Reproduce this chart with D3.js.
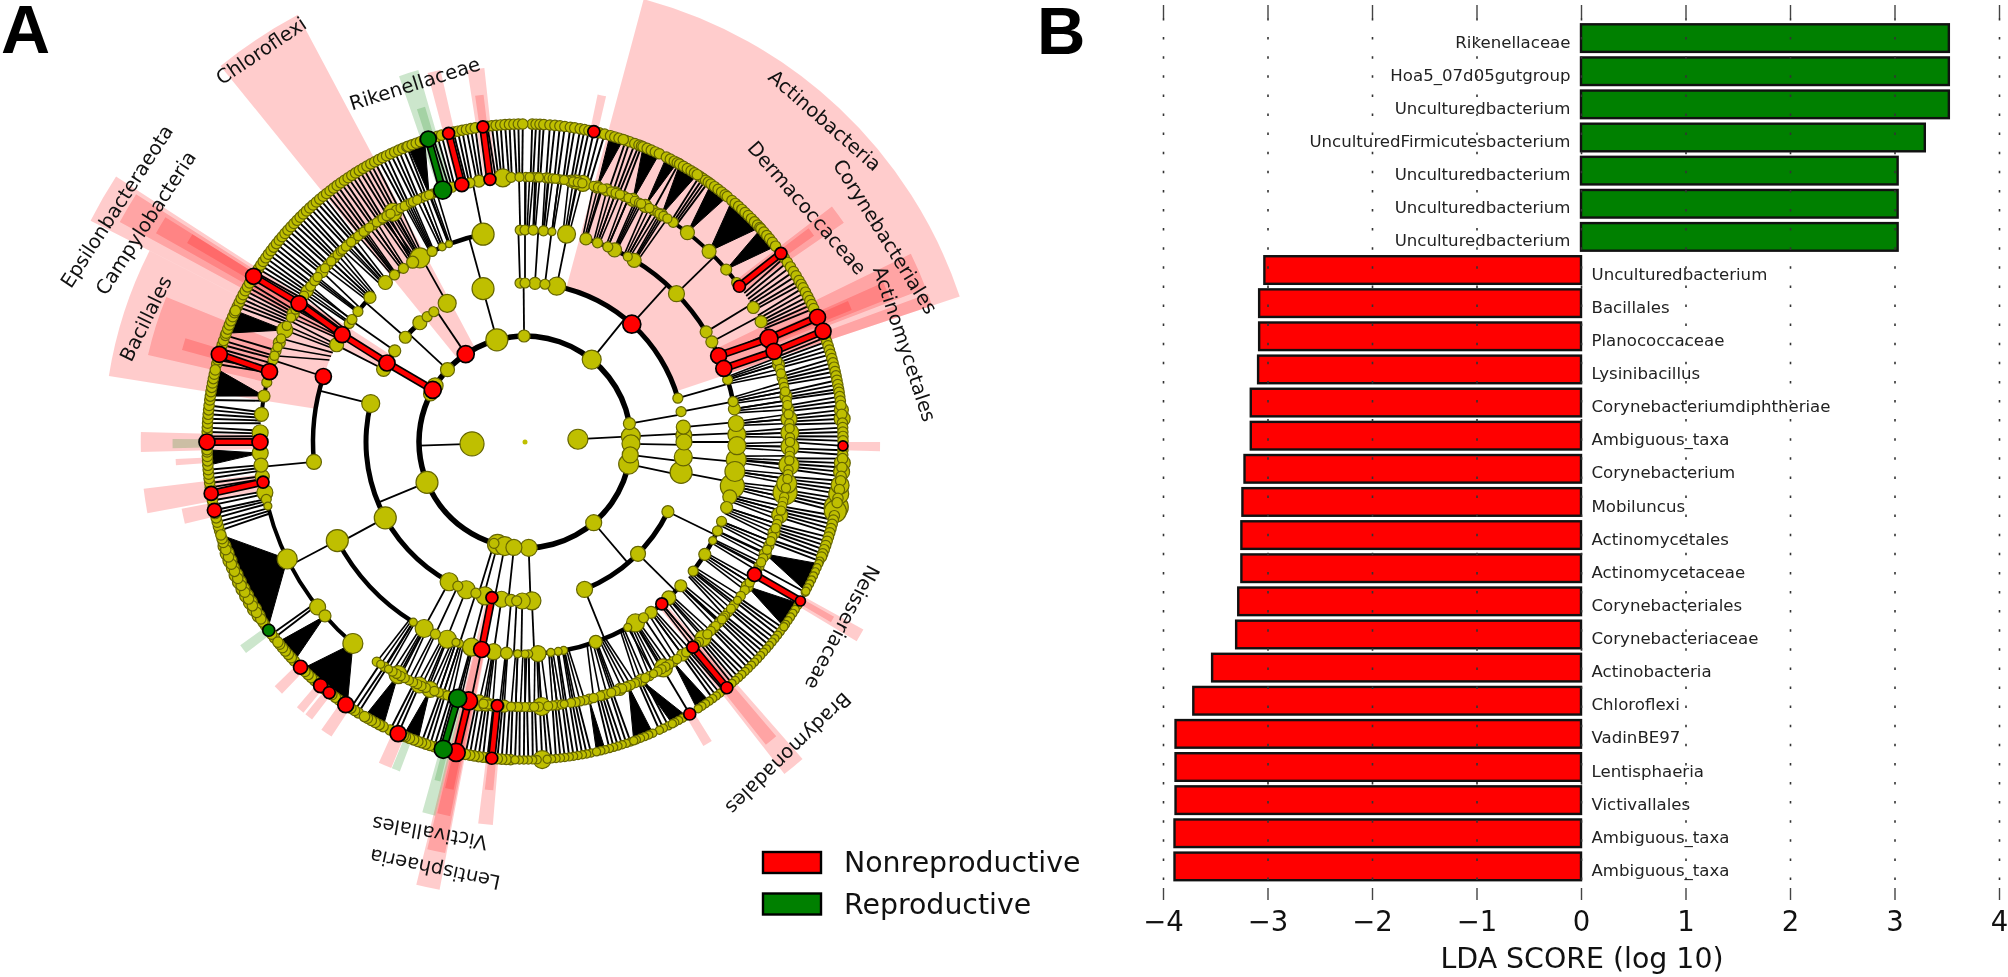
<!DOCTYPE html>
<html><head><meta charset="utf-8">
<script src="https://cdn.jsdelivr.net/npm/d3@7/dist/d3.min.js"></script>
<style>html,body{margin:0;padding:0;background:#fff}svg{display:block;font-family:"DejaVu Sans",sans-serif;filter:blur(0.45px)}</style>
</head><body><svg id="c" width="2008" height="977"></svg>
<script>
// ---------- Panel B data ----------
const barLabels = ["Rikenellaceae","Hoa5_07d05gutgroup","Unculturedbacterium","UnculturedFirmicutesbacterium","Unculturedbacterium","Unculturedbacterium","Unculturedbacterium","Unculturedbacterium","Bacillales","Planococcaceae","Lysinibacillus","Corynebacteriumdiphtheriae","Ambiguous_taxa","Corynebacterium","Mobiluncus","Actinomycetales","Actinomycetaceae","Corynebacteriales","Corynebacteriaceae","Actinobacteria","Chloroflexi","VadinBE97","Lentisphaeria","Victivallales","Ambiguous_taxa","Ambiguous_taxa"];
const barValues = [3.52,3.52,3.52,3.29,3.03,3.03,3.03,-3.03,-3.08,-3.08,-3.09,-3.16,-3.16,-3.22,-3.24,-3.25,-3.25,-3.28,-3.30,-3.53,-3.71,-3.88,-3.88,-3.88,-3.89,-3.89];
const xTicks = [-4,-3,-2,-1,0,1,2,3,4];
const legendItems = [["Nonreproductive","R"],["Reproductive","G"]];

// ---------- Panel A data: angle in degrees clockwise from the top, size, optional class ----------
const level1 = [[87,10],[268,12]];
const level2 = [[297,7],[302,8],[-15.4,11],[-0.5,6],[39,9.5],[80,6],[87,9.5],[91,9],[97,8],[102,10],[139.6,8],[178,8.5],[186,8],[191,9.5],[195,10],[197,5],[247.6,11],[299.5,8.5,"R"],[313,7],[326,8.5,"R"]];
const level3 = [[-15.3,11],[-1.8,5],[0,5],[3.6,6],[7.2,5],[11.5,9],[42.2,9,"R"],[74,5],[79,5],[84.6,7],[87.6,8],[90,8],[95.4,9],[101,11],[116,6],[134.7,7.5],[158,8],[177.5,9],[181,8],[183,5],[185,6],[188.5,8],[192,6,"R"],[194.6,9],[198,5],[201.7,9],[205,5],[208.5,9],[241.5,11],[284,9],[297.2,7],[299.8,8,"R"],[305,6],[311.2,6],[318.6,7],[322,5],[325,5],[330.7,9]];
const level4 = [[-11.4,11],[-1.3,5],[0,5],[2.2,5],[5,5],[7.3,4],[11.3,9],[16.7,6],[20,5],[23,5],[25,7],[29,4.5],[31,7],[45.6,8],[58.7,6],[61.8,6],[66,8,"R"],[69.7,8,"R"],[72.9,5],[79,5],[81,6],[85,8],[88,9],[91,9],[94.8,10],[98,10],[102,12],[105,7],[108,6],[112,5],[114.8,5],[117.7,4],[122,6],[127.5,5],[132.7,6],[137.3,7],[139.8,6,"R"],[143.5,6],[146,5],[148.6,9],[151,4],[160.5,6.5],[169.5,4],[171,4],[173,4],[176.5,8],[179,4],[180,4],[182,4],[185,6],[188.5,8],[191.8,8,"R"],[194.6,9],[198,4],[199,4],[201.5,9],[205,5],[208.4,9],[211.8,4],[242.3,11],[264.6,7.5],[288,8,"R"],[297.3,7],[300.4,8,"R"],[304,5],[305.3,5],[308,5],[313,6],[318.8,7],[322,5],[325,5],[328,6],[330.3,10],[334,5],[337,4],[339,3.5]];
const level5 = [[1,4.5],[3,4.5],[4.8,5],[6.6,4.5],[8.5,4.5],[10,6],[11,7],[12.6,8],[15.8,6],[18,6],[19.9,6],[22,5],[24,6.5],[27,6.5],[29,5],[31,6],[34,5],[37.8,7],[44,7],[49.4,5.5],[53,5],[54,6,"R"],[59.5,6],[63,6],[67,9,"R"],[70,8,"R"],[73,6],[76,5],[80,6],[83,6],[85,8],[88,9],[91,9],[95,10],[99,10],[101,12],[106,8],[110,6],[113,5],[115,6],[118,5],[120,7,"R"],[123,6],[126.7,4],[129,4.5],[132,4.5],[134.6,5],[137.8,8],[140.7,6,"R"],[143.5,6],[146,5],[148.5,9],[151,4],[154,6],[157,5],[159,6],[161,4.5],[163,5],[166,5],[170,4.5],[171.5,4],[173,5],[176.4,9],[178,4.5],[180,4.5],[181.5,4.5],[183,4.5],[184.5,6],[186,6,"R"],[187,6],[188.5,7],[190,8],[192.3,9,"R"],[194.7,9,"G"],[196,5],[198,5],[201,8],[203.5,8],[208.6,9],[211,4],[213,4],[220.5,10],[229,6],[231.5,8],[243.8,10],[256,4],[257.5,5],[259,8],[261.3,6,"R"],[262.5,7],[265,7],[267.6,8],[270,8,"R"],[272,8],[276,7],[280,6],[283,5],[285.4,8,"R"],[288,5],[290,5],[292,6],[295,8],[299,6],[301.5,8,"R"],[304.7,6],[306,5],[307.5,5],[310,6],[312,5],[314,5],[315.6,5],[318,5],[320,5],[321.8,5],[323,5],[325,5],[327,5],[329,5],[330.1,9],[331,5],[333.5,5],[336,4.5],[338,4.5],[338.8,4.5],[341.9,9,"G"],[344,5],[346.2,7,"R"],[348,5],[350,6],[352.4,6,"R"],[355.2,9],[357,5],[358.8,4.5]];

// parent angle, first child angle, last child angle; one table per step outward
const branches1 = [[87,-34,178],[268,178,326]];
const branches2 = [[-15.4,-15.3,-15.3],[-0.5,-1.8,7.2],[39,11.5,74],[80,79,79],[87,84.6,87.6],[91,90,90],[97,95.4,95.4],[102,101,101],[139.6,116,158],[178,177.5,177.5],[186,181,188.5],[191,192,192],[195,194.6,198],[197,201.7,205],[247.6,208.5,284],[299.5,297.2,305],[313,311.2,325],[326,330.7,330.7]];
const branches3 = [[-15.3,-20,-11.4],[-1.8,-1.3,-1.3],[0,0,0],[3.6,2.2,2.2],[7.2,5,7.3],[11.5,11.3,11.3],[42.2,16.7,72.9],[74,73,79],[79,81,81],[84.6,85,85],[87.6,88,88],[90,91,91],[95.4,94.8,98],[101,102,108],[116,112,127.5],[134.7,132.7,151],[158,151,169.5],[177.5,171,176.5],[181,179,182],[183,182,182],[185,185,185],[188.5,188.5,188.5],[192,191.8,191.8],[194.6,194.6,194.6],[198,198,199],[201.7,201.5,201.5],[205,205,205],[208.5,208.4,211.8],[241.5,211.8,242.3],[284,264.6,288],[297.2,297.3,297.3],[299.8,297.3,308],[305,304,305.3],[311.2,308,313],[330.7,318.8,339]];
const branches4 = [[-11.4,-18.1,-4],[-1.3,-1.2,-1.2],[0,1,1],[2.2,3,3],[5,4.8,6.6],[7.3,8.5,8.5],[11.3,10,12.6],[16.7,15.8,15.8],[20,18,19.9],[23,22,22],[25,24,24],[29,27,29],[31,31,31],[45.6,34,54],[58.7,59.5,59.5],[61.8,63,63],[66,67,67],[69.7,70,70],[72.9,73,76],[79,80,80],[81,83,83],[85,85,85],[88,88,88],[91,91,91],[94.8,95,95],[98,99,99],[102,101,101],[105,106,106],[108,110,110],[112,113,113],[114.8,115,115],[117.7,118,120],[122,123,123],[127.5,126.7,134.6],[132.7,137.8,137.8],[137.3,137.8,137.8],[139.8,140.7,140.7],[143.5,143.5,146],[146,148.5,148.5],[148.6,151,151],[151,154,154],[160.5,157,166],[169.5,170,170],[171,171.5,171.5],[173,173,173],[176.5,176.4,178],[179,180,180],[180,181.5,181.5],[182,183,183],[185,184.5,184.5],[188.5,187,190],[191.8,192.3,192.3],[194.6,194.7,194.7],[198,196,198],[199,201,201],[201.5,203.5,203.5],[208.4,208.6,208.6],[211.8,211,213],[242.3,220.5,256],[264.6,257.5,272],[288,276,285.4],[297.3,288,295],[300.4,299,304.7],[304,306,306],[305.3,307.5,307.5],[308,310,310],[313,312,315.6],[318.8,318,320],[322,321.8,323],[325,325,327],[328,329,329],[330.3,330.1,331],[334,333.5,333.5],[337,336,336],[339,338,338.8]];
// level 4 parent angle followed by further level 5 children
const midLinks = [[0,0.2,1,1.8],[2.2,2.5,3.2],[5,4.4,5.2,6],[7.3,7.3,8],[11.3,9.5,10.5,11.5,12.5],[16.7,15,16,17],[20,18,19,20,21],[23,22,23],[25,24.5,25.5,26],[29,27,28,29,30],[31,30.5,31.5,32.5],[72.9,71.5,72.2,73,74,75],[79,77,78,79,80],[81,81,82,83],[85,84,85,86],[88,87,88,89],[91,90,91,92],[94.8,93,94,95,96],[98,97,98,99],[102,100,101,102,103],[105,104,105,106,107],[108,108,109,110,111],[112,112,113,114],[114.8,115,116],[117.7,117,118,119],[122,121,122,123,124],[127.5,125.5,126.7,128,129,130,131],[132.7,131.5,132.5,133,134],[137.3,135.5,136.5,137.8,139],[139.8,139.8,140.7],[143.5,141.5,142.5,143.5,145],[148.6,147,148,149,150,151,152],[151,153,154,155],[160.5,155.5,156.5,157.5,158.5,160,161,162,163.5,165],[169.5,167,168,169,170],[171,171.5],[173,172,173,174],[176.5,175,176.4,177,178],[179,179,180],[180,181],[182,182,183],[185,184.5,185.5],[188.5,187,188,189,190],[194.6,194,195],[198,196,197,198],[199,199,200,201],[201.5,202,203,204],[205,205,206],[208.4,207,208,209,210],[211.8,211,212,213,214],[297.3,289,291,293,295,296],[300.4,298,299,300,301.5,302.5,303.5],[304,304.7,306],[308,307.5,308.5,310],[313,311,312,313,314,315,316],[318.8,316.5,317.5,318,319,320],[322,321,321.8,322.5,323],[325,324,325,326],[328,327,328,329],[330.3,327.5,328.5,329.5,330.1,331,332],[334,333,333.5,334.5,335],[337,336,337,338],[339,338.8,339.5,340.5]];

// parent angle followed by its outermost children
const leafLinks = [[1,1.3,2],[3,2.7,3.4],[4.8,4.5,5.4],[6.6,6.3,7.2],[8.5,8.2,9],[10,10,10.8],[11,11.6],[12.6,12.5,13.5,14.5],[18,18.5],[19.9,19.2,20.2,21],[22,21.5],[29,28.9],[34,33.3,34,34.6,35.2],[54,53.6],[59.5,54.6,55.6,56.6,57.6,58.5,59.5,60.3],[63,61,61.9,62.8,63.6,64.4,65.2],[67,66.9],[70,69.6],[73,70.8,71.6,72.4,73.2,74],[76,74.8,75.6,76.4,77.2,78],[80,78.8,79.6,80.4,81],[83,81.8,82.6,83.4],[85,84.2,85,85.8,86.6],[88,87.4,88.2,89,89.8,90.7],[91,91.5,92.3],[95,93,93.8,94.6,95.4,96.2],[99,97,97.8,98.6,99.4],[101,100.2,101,101.8,102.6],[106,103.4,104.2,105,105.8,106.6],[110,107.4,108.2,109,109.8,110.6],[113,111.2,112],[118,118.2],[120,120],[126.7,125.8,126.6,127.4],[129,128.2,129,129.8],[132,130.6,131.4,132.2,133],[134.6,133.8,134.6,135.4],[137.8,136.2,137,137.8,138.6,139.4],[140.7,140.6],[143.5,141.4,142.2,143,143.8],[148.5,148.8],[154,153.2,154.2,155],[161,160.6,161.4],[163,162.2,163,163.8,164.6],[170,168,168.8,169.6,170.4],[171.5,171.2,172],[173,172.8,173.6,174.4],[176.4,175.2,176,176.9],[178,177.8,178.6],[180,179.4,180.2],[181.5,181,181.8],[183,182.6,183.4],[184.5,184.2,185],[186,186],[187,186.8],[188.5,187.6,188.4,189.2],[190,190,190.8],[192.3,192.5],[194.7,194.9],[196,195.8,196.6],[198,197.4,198.2,199],[203.5,203.5,204.3,205.1],[211,211.6,212.4],[213,213.2],[231.5,232,232.8],[256,253.8,254.6,255.4],[257.5,256.2,257,257.6],[259,258.6,259.4],[261.3,260.7],[262.5,261.8,262.6],[265,263.4,264.2,265],[270,270],[272,271,271.8,272.6],[276,273.4,274.2,275,275.8,276.6],[283,277.6],[285.4,286],[288,284.2,285,287],[290,287.8,288.6],[292,289.6],[299,295.2,296,296.8,297.6,298.4,299.2,300],[301.5,301.4],[304.7,302.2,303,303.8,304.6,305.4],[306,306.2,307],[307.5,307.8,308.6],[310,309.4,310.2,311],[312,311.8,312.6],[314,313.4,314.2,315],[315.6,315.8,316.6],[318,317.4,318.2],[320,319,319.8,320.6],[321.8,321.4,322.2],[323,323,323.8],[325,324.6,325.4],[327,326.2,327,327.8],[329,328.6,329.4],[330.1,330.2,331],[331,331.8],[333.5,332.6,333.4,334.2],[336,335,335.8,336.6],[338,337.4,338.2],[341.9,342.3],[344,343.2,344,344.8],[346.2,346.1],[348,347,347.8,348.6],[350,349.4,350.2,351],[352.4,352.4],[355.2,353.2,354,354.8,355.6],[357,356.4,357.2],[358.8,358,358.8,359.6]];
// parent angle, first and last child of the bundles too dense to separate
const leafBundles = [[15.8,15.5,18],[24,21.8,25],[27,26.4,28.6],[31,29.1,32.8],[37.8,35.8,39.5],[44,40.6,47.6],[49.4,47.9,52],[115,112.5,118],[123,120.5,125.5],[146,144.6,147.2],[154,149.5,152.4],[157,156.3,160],[166,165.4,167],[201,199.7,202.5],[208.6,206.5,210.3],[220.5,214,224.5],[229,226.5,231],[243.8,234,253],[267.6,265.8,268.6],[280,278.3,283.4],[295,290,294.4],[338.8,338.4,341.6]];
// outermost nodes sitting on the dense bundles
const bundleLeaves = [15.6,16.4,17.2,18,21.8,22.6,23.4,24.2,25,26.4,27.2,28,28.6,29.1,29.9,30.7,31.5,32.2,32.8,35.8,36.6,37.4,38.2,39,39.5,40.6,41.4,42.2,43,43.8,44.6,45.4,46.2,47,47.6,47.9,48.7,49.5,50.3,51.1,52,112.5,113.3,114.1,114.9,115.7,116.5,117.3,118,121,121.8,122.6,123.4,124.2,125,125.5,144.6,145.4,146.2,147,149.5,150.3,151.1,151.9,152.4,156.3,157.1,157.9,158.7,159.5,160,165.4,166.2,167,199.7,200.5,201.3,202.1,202.5,206.5,207.3,208.1,208.9,209.7,210.3,215,215.8,216.6,217.4,218.6,219,220.6,221.4,222.2,223,223.8,226.5,227.3,228.1,228.9,229.7,230.5,231,234.8,235.5,236.2,236.9,237.6,238.3,239,239.7,240.4,241.1,241.8,242.5,243.2,243.9,244.6,245.3,246,246.7,247.4,248.1,248.8,249.5,250.2,250.9,251.6,252.3,253,265.8,266.6,267.4,268.2,268.6,278.3,279.1,279.9,280.7,281.5,282.3,283.1,290,290.8,291.6,292.4,293.2,294,294.4,338.4,339.2,340,340.8,341.6];
// outermost nodes that are larger than usual, or enriched in a group
const leafOverrides = [[84.2,7],[85.8,8],[93.8,8],[95.4,8],[97.8,9],[99.4,10],[101.8,12],[102.6,11],[236.9,6.5],[238.3,7],[239.7,7],[241.1,7],[242.5,7],[243.9,7],[245.3,7],[246.7,6.5],[248.1,7],[249.5,7],[250.9,6.5],[176.9,9],[12.5,6,"R"],[53.6,6,"R"],[66.9,8,"R"],[69.6,8,"R"],[90.7,5,"R"],[120,5,"R"],[140.6,6,"R"],[148.8,6,"R"],[186,6,"R"],[192.5,9,"R"],[194.9,9,"G"],[203.5,8,"R"],[214.3,8,"R"],[218,6,"R"],[220,7,"R"],[224.9,7,"R"],[233.7,6,"G"],[260.7,7,"R"],[257.6,7,"R"],[270,8,"R"],[286,8,"R"],[301.4,8,"R"],[342.3,8,"G"],[346.1,6,"R"],[352.4,6,"R"]];
// default size of outermost nodes over angle ranges: from, to, size
const leafSizeRanges = [[0,112,5.2],[112,182,4.1],[182,360,5.2]];
// enriched edges: from level, from angle, to angle, class
const enrichedLinks = [[2,299.5,299.8,"R"],[3,299.8,300.4,"R"],[4,300.4,301.5,"R"],[5,301.5,301.4,"R"],[5,285.4,286,"R"],[5,270,270,"R"],[5,261.3,260.7,"R"],[5,346.2,346.1,"R"],[5,352.4,352.4,"R"],[5,341.9,342.3,"G"],[5,54,53.6,"R"],[5,67,66.9,"R"],[5,70,69.6,"R"],[4,66,67,"R"],[4,69.7,70,"R"],[3,192,191.8,"R"],[5,192.3,192.5,"R"],[5,194.7,194.9,"G"],[5,186,186,"R"],[5,140.7,140.6,"R"],[5,120,120,"R"]];
// shaded clades: from angle, to angle, inner level, outer extent in level units, class
const shades = [[15,71.5,3,8.65,"R"],[64,69,4,8.1,"R"],[66,68.5,5,7.4,"R"],[66.4,68,5,6.65,"R"],[69.8,71.5,4,8.1,"R"],[52.5,55.5,5,7.3,"R"],[53,54.5,5,6.7,"R"],[90,91.5,6,6.7,"R"],[11.8,13.2,6,6.7,"R"],[-8.8,-6.2,5,7.1,"R"],[-8.2,-6.8,5,6.6,"R"],[-14.8,-12.8,5,7.2,"R"],[-19,-16,5,7.3,"G"],[-18,-16.6,5,6.6,"G"],[-39,-28,2,9.13,"R"],[-63,-57,3,9.2,"R"],[-61.5,-57.5,4,8.7,"R"],[-60.5,-58,5,8,"R"],[-59.5,-58,6,7.4,"R"],[-81,-63,4,7.95,"R"],[-77,-68,5,7.3,"R"],[-75,-73,6,6.7,"R"],[-91.5,-88.5,5,7.25,"R"],[-91,-89.5,6,6.65,"G"],[-93.8,-92.8,6,6.6,"R"],[-100.7,-97,5,7.25,"R"],[-103.5,-101,6,6.6,"R"],[119,121,6,7.3,"R"],[119.5,120.5,6,6.7,"R"],[138.8,142,5,7.95,"R"],[139.5,141.5,5,7.3,"R"],[139,141,4,5,"R"],[148,149.6,6,6.65,"R"],[224,225.7,6,6.6,"R"],[219.3,220.7,6,6.6,"R"],[217.5,218.9,6,6.6,"R"],[213.3,215.3,6,6.65,"R"],[202.3,204.5,6,6.65,"R"],[200.8,202.2,6,6.65,"G"],[232.9,234.5,6,6.6,"G"],[184.8,187,6,7.25,"R"],[185.2,186.6,6,6.6,"R"],[190.8,193.8,3,8.6,"R"],[191,193.5,4,7.9,"R"],[191.3,193.3,5,7.2,"R"],[191.6,193,6,6.7,"R"],[193.5,195.5,5,7.25,"G"],[194,195,5,6.6,"G"]];
// clade names: text, angle, distance in level units, text rotation
const cladeLabels = [["Chloroflexi",-34,8.9,-34],["Rikenellaceae",-17.1,7.07,-17.6],["Actinobacteria",43,8.29,41.2],["Corynebacteriales",60.3,7.82,58],["Dermacoccaceae",50.3,6.91,49],["Actinomycetales",75.5,7.39,71.8],["Epsilonbacteraeota",-60,8.89,-57],["Campylobacteria",-60,8.26,-57],["Bacillales",-72,7.52,-63.7],["Neisseriaceae",120.3,6.93,117.7],["Bradymonadales",139.8,7.69,136],["Victivallales",193.7,7.59,190],["Lentisphaeria",191.9,8.23,192]];

// ---------- Shared ----------
const colors = {R:"#ff0000",G:"#008000",Y:"#bfbf00"};
const svg = d3.select("#c");
const rad = d3.scaleLinear().domain([0,360]).range([0,2*Math.PI]);
const rLevel = d3.scaleLinear().domain([0,6]).range([0,318]);
const nodeR = d3.scaleLinear().domain([0,12]).range([0,12]);
// dense branches run almost parallel: their inner end leans towards the child
const lean = (p,c,t)=>p+(c-p)*t;

// ---------- Panel A ----------
const A = svg.append("g").attr("transform","translate(525,442)");
const arc = d3.arc();
const radial = d3.lineRadial().angle(d=>rad(d[0])).radius(d=>rLevel(d[1]));

A.append("g").selectAll("path").data(shades).join("path")
  .attr("d",d=>arc({startAngle:rad(d[0]),endAngle:rad(d[1]),innerRadius:rLevel(d[2]),outerRadius:rLevel(d[3])}))
  .attr("fill",d=>colors[d[4]]).attr("fill-opacity",0.2);

const branchSets = [branches1,branches2,branches3,branches4];
const arcWidth = d3.scaleLinear().domain([1,6]).range([5.5,3]);
const linkG = A.append("g");
branchSets.forEach((set,i)=>{
  const lvl = i+1;
  linkG.append("g").selectAll("path").data(set).join("path")
    .attr("d",d=>radial([[d[0],lvl],[d[0],lvl+1]]))
    .attr("fill","none").attr("stroke","#000").attr("stroke-width",1.8);
  linkG.append("g").selectAll("path").data(set.filter(d=>d[2]>d[1])).join("path")
    .attr("d",d=>{const w=arcWidth(lvl);return arc({startAngle:rad(d[1]),endAngle:rad(d[2]),innerRadius:rLevel(lvl+1)-w/2,outerRadius:rLevel(lvl+1)+w/2});})
    .attr("fill","#000");
});
const midPairs = midLinks.flatMap(row=>row.slice(1).map(c=>[row[0],c]));
linkG.append("g").selectAll("path").data(midPairs).join("path")
  .attr("d",d=>radial([[lean(d[0],d[1],0.55),4],[d[1],5]])).attr("fill","none").attr("stroke","#000").attr("stroke-width",1.6);
linkG.append("g").selectAll("path").data(leafBundles).join("path")
  .attr("d",d=>radial([[d[0],5],[d[1],6],[d[2],6]])+"Z").attr("fill","#000").attr("stroke","#000").attr("stroke-width",1);
const leafPairs = leafLinks.flatMap(row=>row.slice(1).map(c=>[row[0],c]));
linkG.append("g").selectAll("path").data(leafPairs).join("path")
  .attr("d",d=>radial([[lean(d[0],d[1],0.75),5],[d[1],6]])).attr("fill","none").attr("stroke","#000").attr("stroke-width",1.9);
const w6 = arcWidth(6);
linkG.append("g").selectAll("path").data(leafLinks.filter(r=>r.length>2)).join("path")
  .attr("d",r=>arc({startAngle:rad(d3.min(r.slice(1))),endAngle:rad(d3.max(r.slice(1))),innerRadius:rLevel(6)-w6/2,outerRadius:rLevel(6)+w6/2}))
  .attr("fill","#000");

const enrichedG = A.append("g");
[["under",8,"#000"],["over",4.6,null]].forEach(([n,w,c])=>{
  enrichedG.append("g").selectAll("path").data(enrichedLinks).join("path")
    .attr("d",d=>radial([[d[1],d[0]],[d[2],d[0]+1]])).attr("fill","none")
    .attr("stroke",d=>c||colors[d[3]]).attr("stroke-width",w);
});

const known5 = new Set(level5.map(d=>d[0]));
const mid5 = Array.from(new Set(midPairs.map(d=>d[1]).filter(a=>!known5.has(a)))).map(a=>[a,4.6]);
const overrideMap = new Map(leafOverrides.map(d=>[d[0],d]));
const leafAngles = Array.from(new Set([...leafPairs.map(d=>d[1]),...bundleLeaves,...leafOverrides.map(d=>d[0])]));
const leafDefault = a=>leafSizeRanges.find(r=>a>=r[0]&&a<r[1])[2];
const level6 = leafAngles.map(a=>overrideMap.get(a)||[a,leafDefault(a)]);
const allNodes = [];
[level1,level2,level3,level4,level5.concat(mid5),level6].forEach((lv,i)=>lv.forEach(d=>allNodes.push({a:d[0],s:d[1],c:d[2]||"Y",lvl:i+1})));
allNodes.sort((p,q)=>(p.c==="Y"?0:1)-(q.c==="Y"?0:1)||q.s-p.s);
A.append("circle").attr("r",nodeR(2.5)).attr("fill",colors.Y);
A.append("g").selectAll("circle").data(allNodes).join("circle")
  .attr("transform",d=>{const p=d3.pointRadial(rad(d.a),rLevel(d.lvl));return `translate(${p[0]},${p[1]})`;})
  .attr("r",d=>nodeR(d.s)).attr("fill",d=>colors[d.c])
  .attr("stroke",d=>d.c==="Y"?"#666600":"#000").attr("stroke-width",d=>d.c==="Y"?1.2:1.7);

A.append("g").selectAll("text").data(cladeLabels).join("text")
  .attr("transform",d=>{const p=d3.pointRadial(rad(d[1]),rLevel(d[2]));return `translate(${p[0]},${p[1]}) rotate(${d[3]})`;})
  .attr("text-anchor","middle").attr("dominant-baseline","central").attr("font-size",19.6).attr("fill","#111").text(d=>d[0]);

const legY = d3.scaleBand().domain(legendItems.map(d=>d[0])).range([842,916.7]).paddingInner(0.2);
const leg = svg.append("g").selectAll("g").data(legendItems).join("g")
  .attr("transform",d=>`translate(763,${legY(d[0])})`);
leg.append("rect").attr("width",58).attr("y",10).attr("height",21).attr("fill",d=>colors[d[1]]).attr("stroke","#000").attr("stroke-width",2.4);
leg.append("text").attr("x",81).attr("y",30).attr("font-size",28.4).attr("fill","#111").text(d=>d[0]);

// ---------- Panel B ----------
const x = d3.scaleLinear().domain([-4,4]).range([1163,1999]);
const y = d3.scaleBand().domain(d3.range(barValues.length)).range([24.3,880.2]).paddingInner(0.167);
svg.append("g").selectAll("rect").data(barValues).join("rect")
  .attr("x",d=>x(Math.min(0,d))).attr("width",d=>Math.abs(x(d)-x(0)))
  .attr("y",(d,i)=>y(i)).attr("height",y.bandwidth())
  .attr("fill",d=>d>0?colors.G:colors.R).attr("stroke","#111").attr("stroke-width",2.4);
svg.append("g").attr("transform","translate(0,880)")
  .call(d3.axisBottom(x).tickValues(xTicks).tickSize(-862).tickFormat(""))
  .call(g=>g.select(".domain").remove())
  .call(g=>g.selectAll("line").attr("stroke","#333").attr("stroke-width",1.6).attr("stroke-dasharray","2.5 16.6"));
svg.append("g").attr("transform","translate(0,5)")
  .call(d3.axisBottom(x).tickValues(xTicks).tickSize(13).tickFormat(""))
  .call(g=>g.select(".domain").remove())
  .call(g=>g.selectAll("line").attr("stroke","#444").attr("stroke-width",1.4));
svg.append("g").attr("transform","translate(0,900)")
  .call(d3.axisBottom(x).tickValues(xTicks).tickSize(-12).tickPadding(20))
  .call(g=>g.select(".domain").remove())
  .call(g=>g.selectAll("line").attr("stroke","#444").attr("stroke-width",1.4))
  .call(g=>g.selectAll("text").attr("font-family","DejaVu Sans").attr("font-size",27.5).attr("fill","#111").attr("dy",0).attr("y",30.5));
svg.append("g").selectAll("text").data(barLabels).join("text")
  .attr("x",(d,i)=>barValues[i]>0?x(0)-10.5:x(0)+10.5)
  .attr("y",(d,i)=>y(i)+y.bandwidth()/2+9.6)
  .attr("text-anchor",(d,i)=>barValues[i]>0?"end":"start")
  .attr("font-size",16.6).attr("fill","#222").text(d=>d);
svg.append("text").attr("x",x(0)+1).attr("y",968).attr("text-anchor","middle").attr("font-size",28.4).attr("fill","#111").text("LDA SCORE (log 10)");

// panel letters
svg.append("text").attr("x",1).attr("y",53).attr("font-family","Liberation Sans").attr("font-weight",700).attr("font-size",68).text("A");
svg.append("text").attr("x",1037).attr("y",54).attr("font-family","Liberation Sans").attr("font-weight",700).attr("font-size",67).text("B");
</script></body></html>
